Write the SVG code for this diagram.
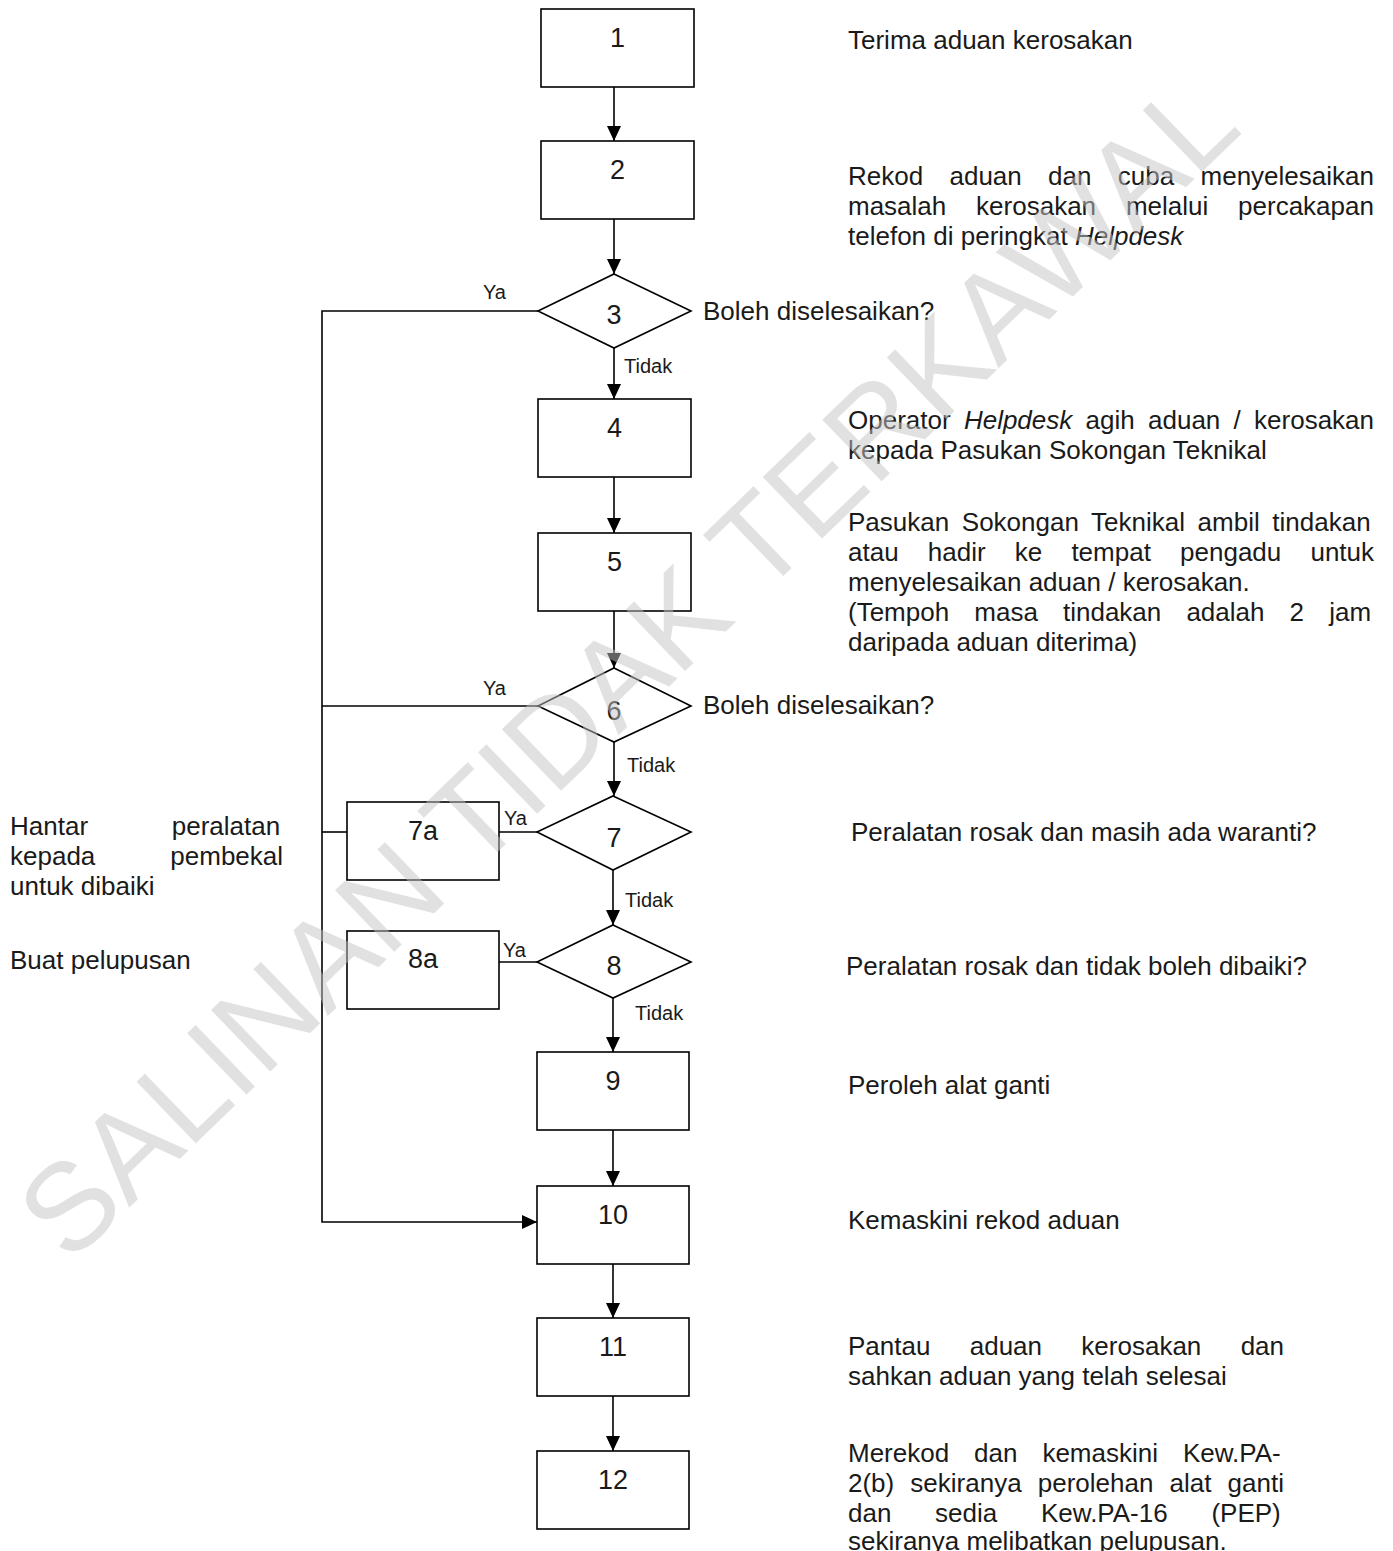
<svg xmlns="http://www.w3.org/2000/svg" width="1393" height="1551" viewBox="0 0 1393 1551">
<style>
.box{fill:#fff;stroke:#000;stroke-width:1.6}
.ln{fill:none;stroke:#000;stroke-width:1.6}
.t{font-family:"Liberation Sans",Arial,sans-serif;font-size:26px;fill:#1a1a1a}
.num{font-family:"Liberation Sans",Arial,sans-serif;font-size:27px;fill:#1a1a1a;text-anchor:middle}
.lbl{font-family:"Liberation Sans",Arial,sans-serif;font-size:20px;fill:#1a1a1a}
.wm{font-family:"Liberation Sans",Arial,sans-serif;font-size:124px;fill:#c4c4c4;fill-opacity:0.5}
</style>
<defs>
<marker id="ah" markerUnits="userSpaceOnUse" markerWidth="15" markerHeight="14" refX="15" refY="7" orient="auto">
<path d="M0,0 L15,7 L0,14 z" fill="#000"/>
</marker>
</defs>
<rect width="1393" height="1551" fill="#fff"/>
<g id="connectors">
<line class="ln" x1="614" y1="87" x2="614" y2="141" marker-end="url(#ah)"/>
<line class="ln" x1="614" y1="219" x2="614" y2="274" marker-end="url(#ah)"/>
<line class="ln" x1="614" y1="348" x2="614" y2="399" marker-end="url(#ah)"/>
<line class="ln" x1="614" y1="477" x2="614" y2="533" marker-end="url(#ah)"/>
<line class="ln" x1="614" y1="611" x2="614" y2="668" marker-end="url(#ah)"/>
<line class="ln" x1="614" y1="742" x2="614" y2="796" marker-end="url(#ah)"/>
<line class="ln" x1="613" y1="870" x2="613" y2="925" marker-end="url(#ah)"/>
<line class="ln" x1="613" y1="998" x2="613" y2="1052" marker-end="url(#ah)"/>
<line class="ln" x1="613" y1="1130" x2="613" y2="1186" marker-end="url(#ah)"/>
<line class="ln" x1="613" y1="1264" x2="613" y2="1318" marker-end="url(#ah)"/>
<line class="ln" x1="613" y1="1396" x2="613" y2="1451" marker-end="url(#ah)"/>
<polyline class="ln" points="538,311 322,311 322,1222 537,1222" marker-end="url(#ah)"/>
<line class="ln" x1="538" y1="706" x2="322" y2="706"/>
<line class="ln" x1="347" y1="832" x2="322" y2="832"/>
<line class="ln" x1="537" y1="832" x2="499" y2="832"/>
<line class="ln" x1="537" y1="962" x2="499" y2="962"/>
<text class="lbl" x="483" y="299">Ya</text>
<text class="lbl" x="624" y="373">Tidak</text>
<text class="lbl" x="483" y="695">Ya</text>
<text class="lbl" x="627" y="772">Tidak</text>
<text class="lbl" x="504" y="825">Ya</text>
<text class="lbl" x="625" y="907">Tidak</text>
<text class="lbl" x="503" y="957">Ya</text>
<text class="lbl" x="635" y="1020">Tidak</text>
</g>
<g id="n1"><rect class="box" x="541" y="9" width="153" height="78"/><text class="num" x="617.5" y="47">1</text></g>
<g id="n2"><rect class="box" x="541" y="141" width="153" height="78"/><text class="num" x="617.5" y="179">2</text></g>
<g id="n3"><polygon class="box" points="614,274 691,311 614,348 538,311"/><text class="num" x="614" y="324">3</text></g>
<g id="n4"><rect class="box" x="538" y="399" width="153" height="78"/><text class="num" x="614.5" y="437">4</text></g>
<g id="n5"><rect class="box" x="538" y="533" width="153" height="78"/><text class="num" x="614.5" y="571">5</text></g>
<g id="n6"><polygon class="box" points="614,668 691,706 614,742 538,706"/><text class="num" x="614" y="720">6</text></g>
<g id="n7"><polygon class="box" points="613,796 691,832 613,870 537,832"/><text class="num" x="614" y="847">7</text></g>
<g id="n7a"><rect class="box" x="347" y="802" width="152" height="78"/><text class="num" x="423" y="840">7a</text></g>
<g id="n8"><polygon class="box" points="613,925 691,962 613,998 537,962"/><text class="num" x="614" y="975">8</text></g>
<g id="n8a"><rect class="box" x="347" y="931" width="152" height="78"/><text class="num" x="423" y="968">8a</text></g>
<g id="n9"><rect class="box" x="537" y="1052" width="152" height="78"/><text class="num" x="613" y="1090">9</text></g>
<g id="n10"><rect class="box" x="537" y="1186" width="152" height="78"/><text class="num" x="613" y="1224">10</text></g>
<g id="n11"><rect class="box" x="537" y="1318" width="152" height="78"/><text class="num" x="613" y="1356">11</text></g>
<g id="n12"><rect class="box" x="537" y="1451" width="152" height="78"/><text class="num" x="613" y="1489">12</text></g>
<g id="descriptions">
<text class="t" x="848" y="49">Terima aduan kerosakan</text>
<text class="t" x="848" y="185" word-spacing="19.1">Rekod aduan dan cuba menyelesaikan</text>
<text class="t" x="848" y="215" word-spacing="22.6">masalah kerosakan melalui percakapan</text>
<text class="t" x="848" y="245">telefon di peringkat <tspan font-style="italic">Helpdesk</tspan></text>
<text class="t" x="703" y="320">Boleh diselesaikan?</text>
<text class="t" x="848" y="429" word-spacing="6.05">Operator <tspan font-style="italic">Helpdesk</tspan> agih aduan / kerosakan</text>
<text class="t" x="848" y="459">kepada Pasukan Sokongan Teknikal</text>
<text class="t" x="848" y="531" word-spacing="5.4">Pasukan Sokongan Teknikal ambil tindakan</text>
<text class="t" x="848" y="561" word-spacing="21.95">atau hadir ke tempat pengadu untuk</text>
<text class="t" x="848" y="591">menyelesaikan aduan / kerosakan.</text>
<text class="t" x="848" y="621" word-spacing="17.9">(Tempoh masa tindakan adalah 2 jam</text>
<text class="t" x="848" y="651">daripada aduan diterima)</text>
<text class="t" x="703" y="714">Boleh diselesaikan?</text>
<text class="t" x="851" y="841">Peralatan rosak dan masih ada waranti?</text>
<text class="t" x="846" y="975">Peralatan rosak dan tidak boleh dibaiki?</text>
<text class="t" x="848" y="1094">Peroleh alat ganti</text>
<text class="t" x="848" y="1229">Kemaskini rekod aduan</text>
<text class="t" x="848" y="1355" word-spacing="32.1">Pantau aduan kerosakan dan</text>
<text class="t" x="848" y="1385">sahkan aduan yang telah selesai</text>
<text class="t" x="848" y="1462" word-spacing="17.7">Merekod dan kemaskini Kew.PA-</text>
<text class="t" x="848" y="1492" word-spacing="8.9">2(b) sekiranya perolehan alat ganti</text>
<text class="t" x="848" y="1522" word-spacing="36.5">dan sedia Kew.PA-16 (PEP)</text>
<text class="t" x="848" y="1550">sekiranya melibatkan pelupusan.</text>
<text class="t" x="10" y="835" word-spacing="76.5">Hantar peralatan</text>
<text class="t" x="10" y="865" word-spacing="67.8">kepada pembekal</text>
<text class="t" x="10" y="895">untuk dibaiki</text>
<text class="t" x="10" y="969">Buat pelupusan</text>
</g>
<text class="wm" x="657" y="698" text-anchor="middle" transform="rotate(-44 657 698)">SALINAN TIDAK TERKAWAL</text>
</svg>
